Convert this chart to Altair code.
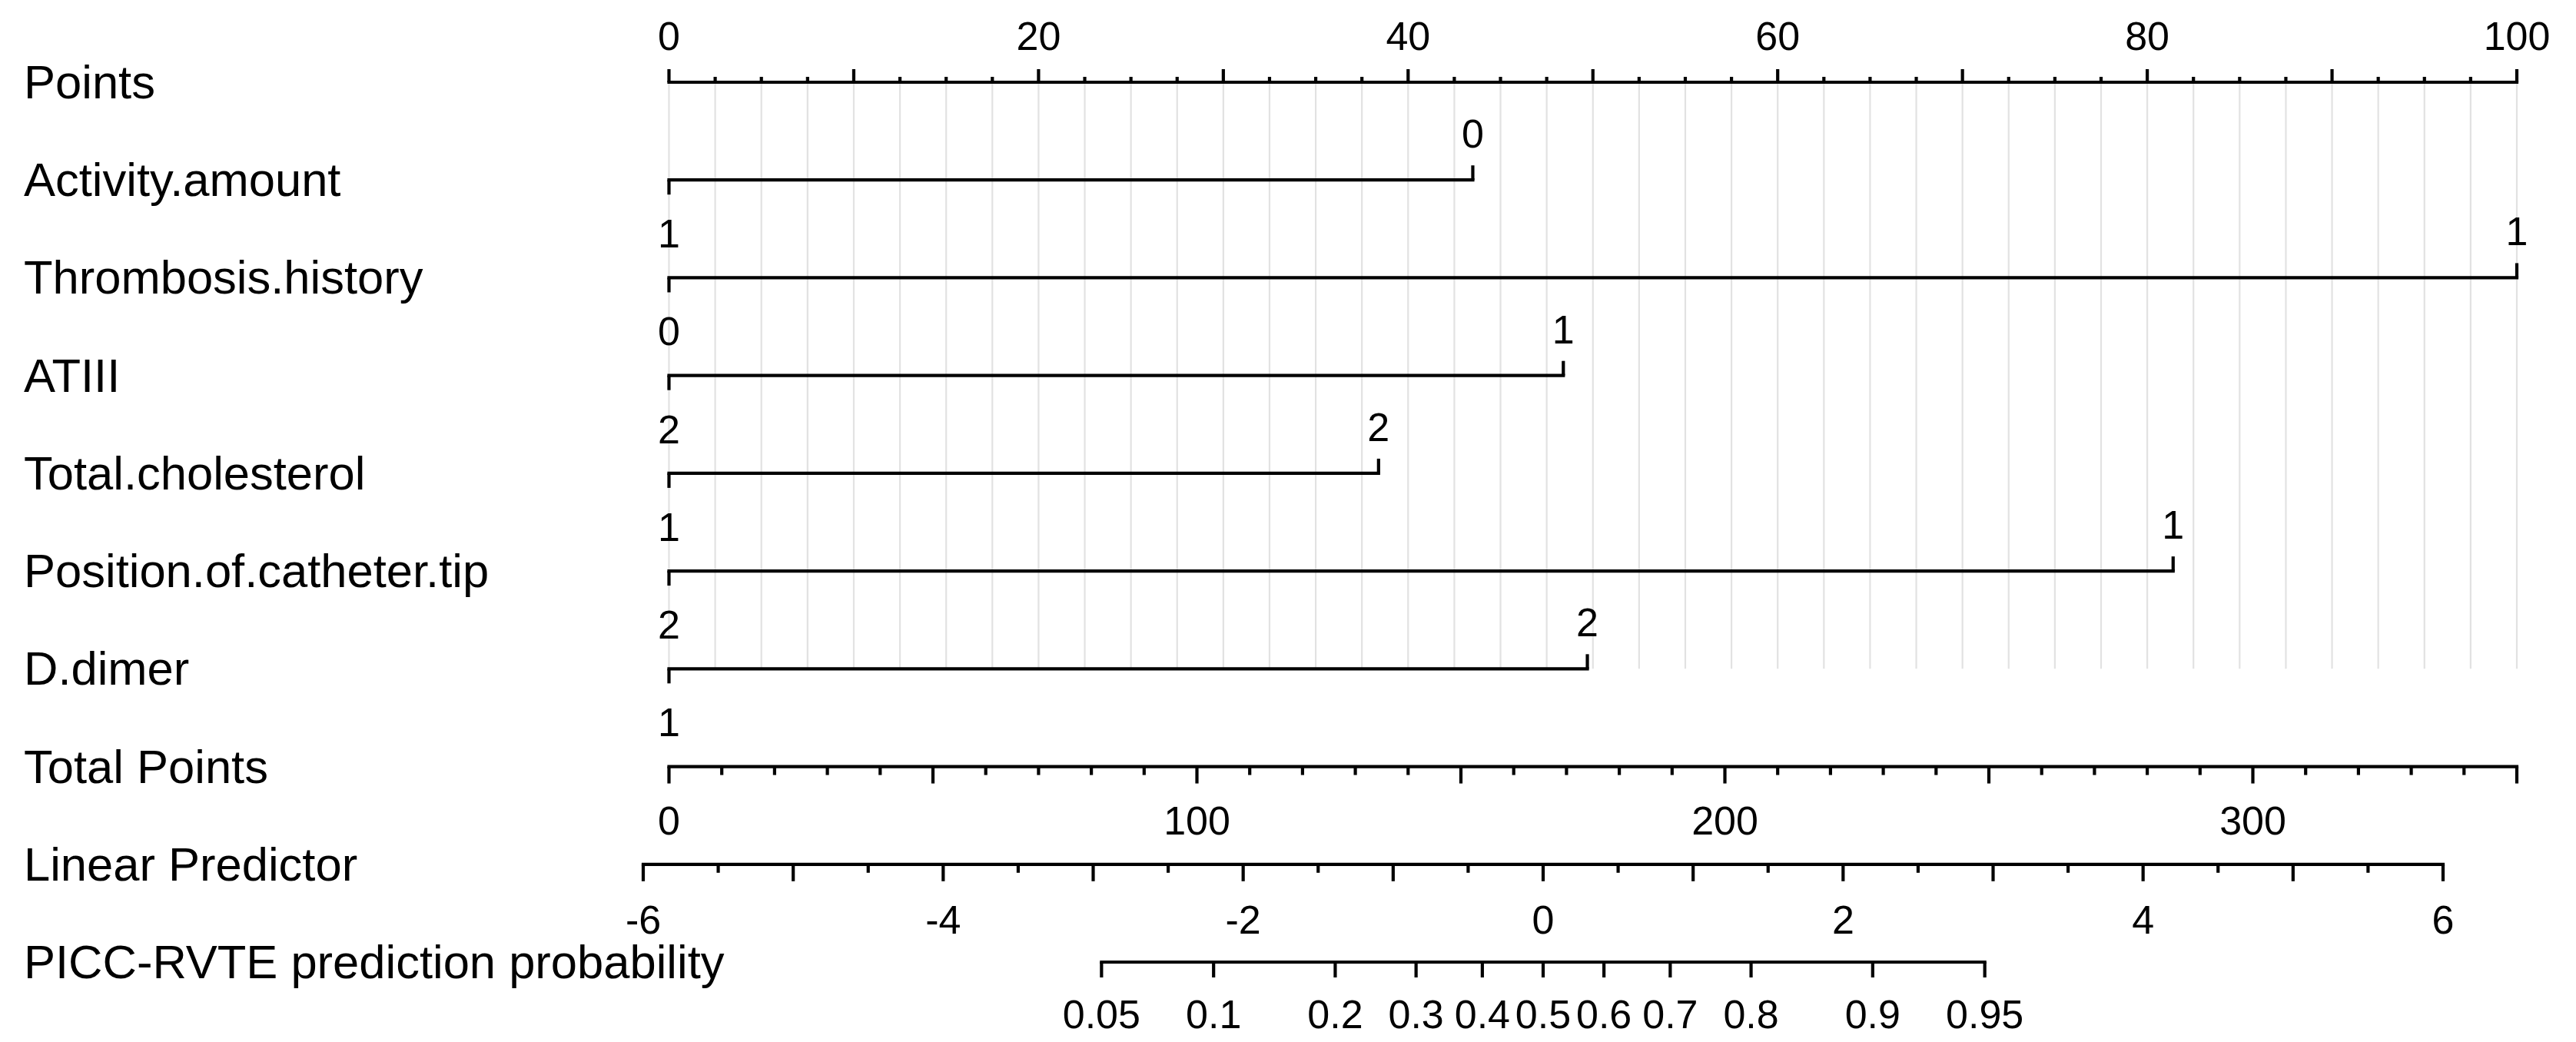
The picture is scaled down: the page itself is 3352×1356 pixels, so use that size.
import altair as alt
import pandas as pd
import numpy as np

FONT = "Liberation Sans"

# ---------------- data ----------------
row_labels = ["Points", "Activity.amount", "Thrombosis.history", "ATIII",
              "Total.cholesterol", "Position.of.catheter.tip", "D.dimer",
              "Total Points", "Linear Predictor", "PICC-RVTE prediction probability"]

var_names = ["Activity.amount", "Thrombosis.history", "ATIII",
             "Total.cholesterol", "Position.of.catheter.tip", "D.dimer"]
var_low_level = ["1", "0", "2", "1", "2", "1"]
var_low_points = [0, 0, 0, 0, 0, 0]
var_high_level = ["0", "1", "1", "2", "1", "2"]
var_high_points = [43.5, 100, 48.4, 38.4, 81.4, 49.7]

points_ticks = list(np.arange(0, 100.001, 2.5))
points_major = [0, 10, 20, 30, 40, 50, 60, 70, 80, 90, 100]
points_labels = [0, 20, 40, 60, 80, 100]

total_ticks = list(range(0, 351, 10))
total_major = [0, 50, 100, 150, 200, 250, 300, 350]
total_labels = [0, 100, 200, 300]

lp_ticks = list(np.arange(-6, 6.001, 0.5))
lp_major = [-6, -5, -4, -3, -2, -1, 0, 1, 2, 3, 4, 5, 6]
lp_labels = [-6, -4, -2, 0, 2, 4, 6]

prob_values = [0.05, 0.1, 0.2, 0.3, 0.4, 0.5, 0.6, 0.7, 0.8, 0.9, 0.95]
prob_labels = ["0.05", "0.1", "0.2", "0.3", "0.4", "0.5", "0.6", "0.7", "0.8", "0.9", "0.95"]

# ---------------- scales / styles ----------------
W, H = 3336, 1340
ys = alt.Scale(domain=[0, 9], range=[99, 1244])
xs_pts = alt.Scale(domain=[0, 100], range=[862.5, 3267])
xs_tot = alt.Scale(domain=[0, 350], range=[862.5, 3267])
xs_lp = alt.Scale(domain=[-6, 6], range=[829, 3171])

LW = 4.2
TICK_FS = 52
LABEL_FS = 61.5


def X(f, s):
    return alt.X(f, type="quantitative", scale=s, axis=None)


def Y(f):
    return alt.Y(f, type="quantitative", scale=ys, axis=None)


def axis_line(df, s):
    return alt.Chart(df).mark_rule(color="black", strokeWidth=LW, strokeCap="square").encode(
        x=X("x0", s), x2="x1", y=Y("row"))


def ticks(df, s, off):
    return alt.Chart(df).mark_rule(color="black", strokeWidth=LW, y2Offset=off).encode(
        x=X("x", s), y=Y("row"), y2="row")


def labels(df, s, dy, field="lab"):
    return alt.Chart(df).mark_text(font=FONT, fontSize=TICK_FS, color="black",
                                   baseline="alphabetic", align="center", dy=dy).encode(
        x=X("x", s), y=Y("row"), text=alt.Text(field, type="nominal"))


# ---------------- points-space layer ----------------
grid_df = pd.DataFrame({"x": points_ticks, "y0": 0, "y1": 6})
grid = alt.Chart(grid_df).mark_rule(color="#e2e2e2", strokeWidth=2.2).encode(
    x=X("x", xs_pts), y=Y("y0"), y2="y1")

pts_line = axis_line(pd.DataFrame({"x0": [0], "x1": [100], "row": [0]}), xs_pts)
pts_minor = ticks(pd.DataFrame({"x": [t for t in points_ticks if t not in points_major], "row": 0}), xs_pts, -7)
pts_major = ticks(pd.DataFrame({"x": points_major, "row": 0}), xs_pts, -17)
pts_lab = labels(pd.DataFrame({"x": points_labels, "row": 0,
                               "lab": [str(v) for v in points_labels]}), xs_pts, -42)

var_df = pd.DataFrame({
    "name": var_names,
    "row": list(range(1, 7)),
    "x0": var_low_points,
    "x1": var_high_points,
    "lo": var_low_level,
    "hi": var_high_level,
})
var_lines = axis_line(var_df, xs_pts)
var_hi_tick = alt.Chart(var_df).mark_rule(color="black", strokeWidth=LW, y2Offset=-19).encode(
    x=X("x1", xs_pts), y=Y("row"), y2="row")
var_lo_tick = alt.Chart(var_df).mark_rule(color="black", strokeWidth=LW, y2Offset=19).encode(
    x=X("x0", xs_pts), y=Y("row"), y2="row")
var_hi_lab = alt.Chart(var_df).mark_text(font=FONT, fontSize=TICK_FS, color="black",
                                         baseline="alphabetic", dy=-42).encode(
    x=X("x1", xs_pts), y=Y("row"), text="hi:N")
var_lo_lab = alt.Chart(var_df).mark_text(font=FONT, fontSize=TICK_FS, color="black",
                                         baseline="alphabetic", dy=88).encode(
    x=X("x0", xs_pts), y=Y("row"), text="lo:N")

row_df = pd.DataFrame({"label": row_labels, "row": list(range(len(row_labels)))})
row_text = alt.Chart(row_df).mark_text(font=FONT, fontSize=LABEL_FS, color="black",
                                       align="left", baseline="alphabetic", dy=21).encode(
    x=alt.value(23), y=Y("row"), text="label:N")

layer_pts = alt.layer(grid, pts_line, pts_minor, pts_major, pts_lab,
                      var_lines, var_hi_tick, var_lo_tick, var_hi_lab, var_lo_lab, row_text)

# ---------------- total points layer ----------------
tot_line = axis_line(pd.DataFrame({"x0": [0], "x1": [350], "row": [7]}), xs_tot)
tot_minor = ticks(pd.DataFrame({"x": [t for t in total_ticks if t not in total_major], "row": 7}), xs_tot, 11)
tot_major = ticks(pd.DataFrame({"x": total_major, "row": 7}), xs_tot, 22)
tot_lab = labels(pd.DataFrame({"x": total_labels, "row": 7,
                               "lab": [str(v) for v in total_labels]}), xs_tot, 88)
layer_tot = alt.layer(tot_line, tot_minor, tot_major, tot_lab)

# ---------------- linear predictor / probability layer ----------------
lp_line = axis_line(pd.DataFrame({"x0": [-6], "x1": [6], "row": [8]}), xs_lp)
lp_minor = ticks(pd.DataFrame({"x": [t for t in lp_ticks if t not in lp_major], "row": 8}), xs_lp, 11)
lp_maj = ticks(pd.DataFrame({"x": lp_major, "row": 8}), xs_lp, 22)
lp_lab = labels(pd.DataFrame({"x": lp_labels, "row": 8,
                              "lab": [str(v) for v in lp_labels]}), xs_lp, 90)

prob_df = pd.DataFrame({"p": prob_values, "lab": prob_labels, "row": 9})
prob_line = alt.Chart(pd.DataFrame({"p0": [prob_values[0]], "p1": [prob_values[-1]], "row": [9]})).transform_calculate(
    x0="log(datum.p0/(1-datum.p0))", x1="log(datum.p1/(1-datum.p1))"
).mark_rule(color="black", strokeWidth=LW, strokeCap="square").encode(
    x=X("x0", xs_lp), x2="x1", y=Y("row"))
prob_ticks = alt.Chart(prob_df).transform_calculate(
    x="log(datum.p/(1-datum.p))"
).mark_rule(color="black", strokeWidth=LW, y2Offset=20).encode(
    x=X("x", xs_lp), y=Y("row"), y2="row")
prob_lab = alt.Chart(prob_df).transform_calculate(
    x="log(datum.p/(1-datum.p))"
).mark_text(font=FONT, fontSize=TICK_FS, color="black", baseline="alphabetic", dy=86).encode(
    x=X("x", xs_lp), y=Y("row"), text="lab:N")
layer_lp = alt.layer(lp_line, lp_minor, lp_maj, lp_lab, prob_line, prob_ticks, prob_lab)

chart = alt.layer(layer_pts, layer_tot, layer_lp).resolve_scale(x="independent").properties(
    width=W, height=H, padding=0, background="white",
    autosize=alt.AutoSizeParams(type="none"),
).configure_view(stroke=None)

chart.save("out.html", embed_options={"renderer": "svg", "actions": False})
